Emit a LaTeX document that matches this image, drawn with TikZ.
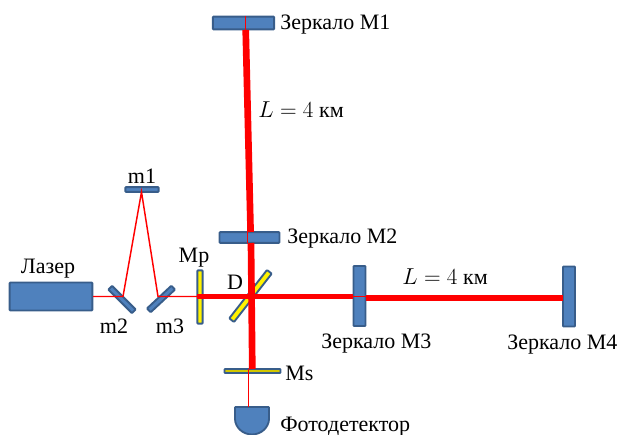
\documentclass[tikz,border=0pt]{standalone}
\usepackage{fontspec}
\setmainfont{Liberation Serif}
\definecolor{mirrorblue}{HTML}{4F81BD}
\definecolor{mirrorline}{HTML}{385D8A}
\tikzset{
    mirror/.style={draw=mirrorline, fill=mirrorblue, line width=1.4pt, rounded corners=0.6pt, inner sep=0pt, outer sep=0pt},
    plate/.style={mirror, fill=yellow},
    thinbeam/.style={red, line width=1.1pt},
    midbeam/.style={red, line width=3.4pt},
    fatbeam/.style={red, line width=5pt},
    lbl/.style={inner sep=0pt, font=\fontsize{16.5}{18}\selectfont}
}
\begin{document}
\begin{tikzpicture}[x=0.75pt, y=-0.75pt]
    \useasboundingbox (0,0) rectangle (618,435);

    % Mirrors
    \node[mirror, minimum width=46pt, minimum height=9.5pt] (M1) at (243.5,23) {};
    \node[mirror, minimum width=45pt, minimum height=8pt] (M2) at (249.5,237.5) {};
    \node[mirror, minimum width=9pt, minimum height=45pt] (M3) at (359.5,296) {};
    \node[mirror, minimum width=9pt, minimum height=45pt] (M4) at (569,296.5) {};
    \node[mirror, minimum width=62pt, minimum height=21pt] (laser) at (51,296.5) {};
    \node[mirror, minimum width=25pt, minimum height=3.5pt] (m1) at (142,189.5) {};
    \node[mirror, minimum width=25pt, minimum height=4pt, rotate=-45] (m2) at (122,299.5) {};
    \node[mirror, minimum width=25pt, minimum height=4pt, rotate=43] (m3) at (161,299) {};
    \node[plate, minimum width=4pt, minimum height=40pt] (Mp) at (200,297) {};
    \node[plate, minimum width=46pt, minimum height=4.5pt, rotate=52] (D) at (250.5,296) {};
    \node[plate, fill=yellow!60!olive, minimum width=42pt, minimum height=3pt] (Ms) at (252.5,371) {};

    % Detector
    \draw[mirror] (235,407) -- (269,407) -- (269,418) arc[start angle=0, end angle=180, x radius=17, y radius=16.5] -- cycle;
    \coordinate (det) at (248.5,407);

    % Beams
    \coordinate (a) at (123,296.5);
    \coordinate (b) at (158,296.5);
    \coordinate (c) at (197,296.5);
    \coordinate (f) at (353,296.5);
    \coordinate (g) at (366,296.5);
    \coordinate (h) at (366,298);
    \coordinate (k) at (563,298);
    \coordinate (apex) at (141.5,192);
    \coordinate (top) at (245.7,16);
    \coordinate (topb) at (245.7,30);
    \coordinate (upa) at (250.6,232);
    \coordinate (upb) at (247.5,232);
    \coordinate (lowa) at (247.5,243);
    \coordinate (lowb) at (251,243);
    \coordinate (low) at (252.3,369);
    \coordinate (thr) at (248.5,369);
    \draw[thinbeam] (93,296.5) -- (a) -- (apex) -- (b) -- (c);
    \draw[midbeam] (c) -- (f);
    \draw[thinbeam] (f) -- (g);
    \draw[fatbeam] (h) -- (k);
    \draw[fatbeam] (topb) -- (upa);
    \draw[fatbeam] (lowb) -- (low);
    \draw[thinbeam] (upb) -- (lowa);
    \draw[thinbeam] (top) -- (topb);
    \draw[thinbeam] (thr) -- (det);

    % Labels
    \node[lbl, anchor=west] (tM1) at (280,25) {Зеркало М1};
    \node[lbl, anchor=west] (tM2) at (287,239) {Зеркало М2};
    \node[lbl, anchor=west] (tM3) at (321,344) {Зеркало М3};
    \node[lbl, anchor=west] (tM4) at (507,345) {Зеркало М4};
    \node[lbl] (tL1) at (301,110) {$L=4$ км};
    \node[lbl] (tL2) at (445,277) {$L=4$ км};
    \node[lbl] (tlaser) at (48,269) {Лазер};
    \node[lbl] (tm1) at (142,176) {m1};
    \node[lbl] (tm2) at (114,326) {m2};
    \node[lbl] (tm3) at (170,326) {m3};
    \node[lbl] (tMp) at (194,258) {Мр};
    \node[lbl] (tD) at (235,282) {D};
    \node[lbl, anchor=west] (tMs) at (285,373) {Ms};
    \node[lbl, anchor=west] (tdet) at (280,426.5) {Фотодетектор};
\end{tikzpicture}
\end{document}
